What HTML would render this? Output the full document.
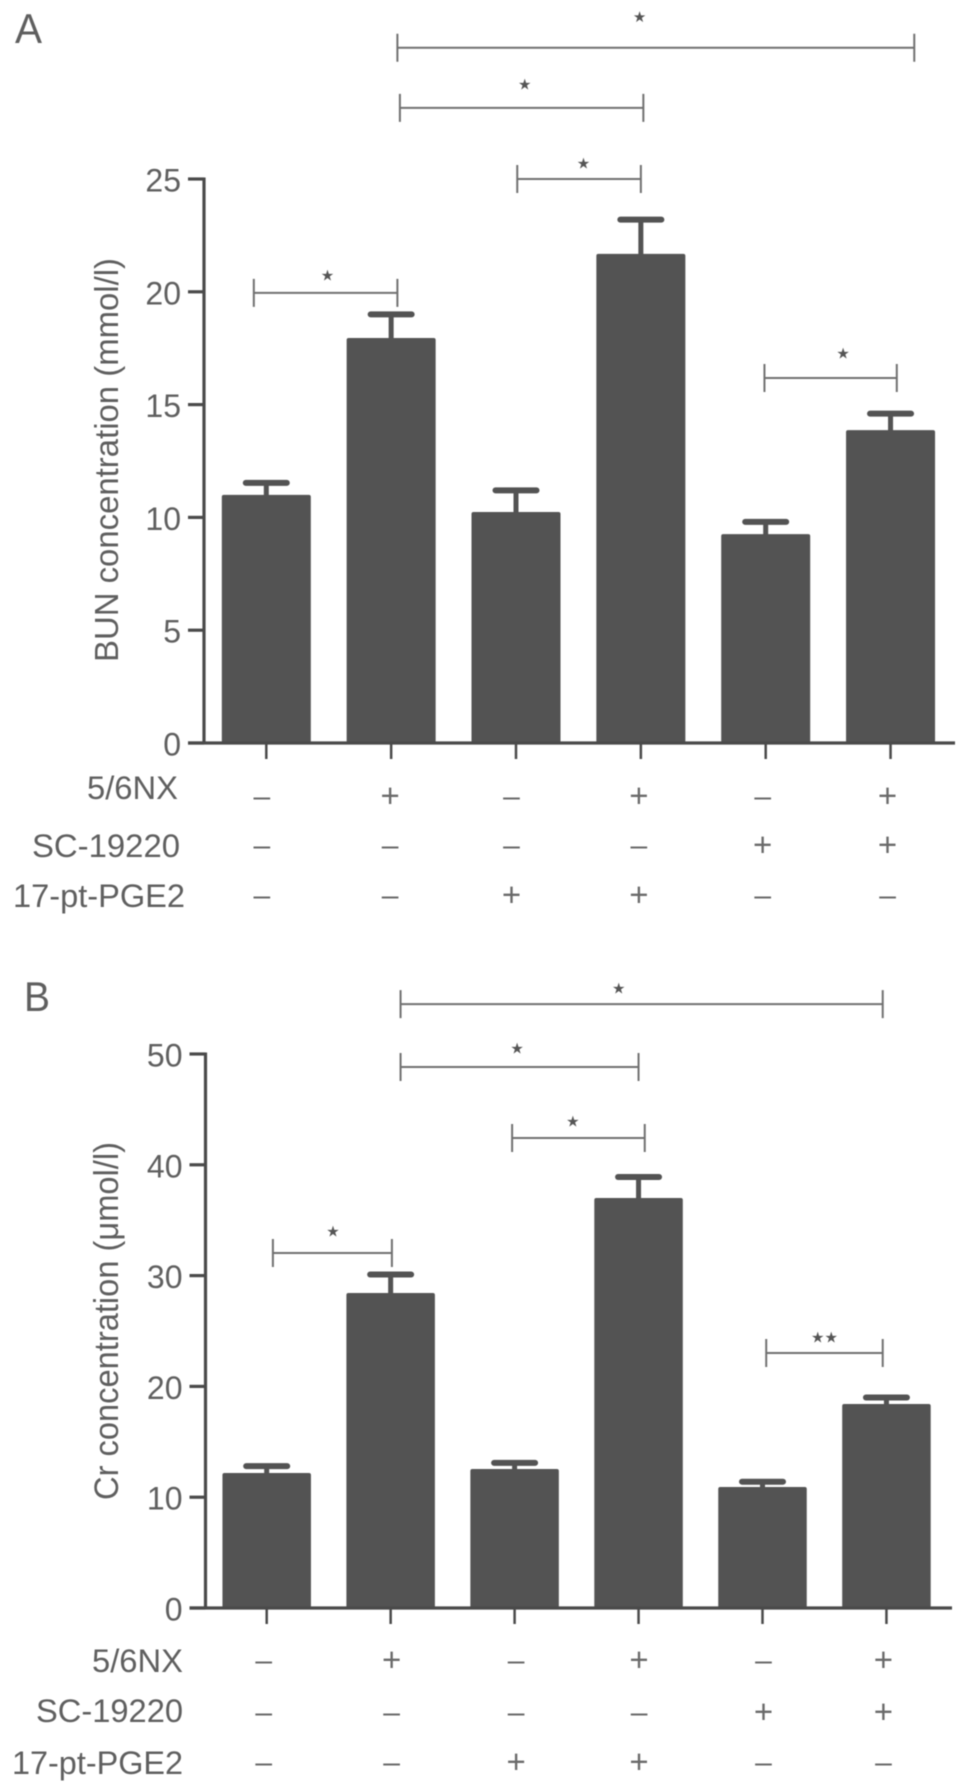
<!DOCTYPE html>
<html lang="en">
<head>
<meta charset="utf-8">
<title>BUN and Cr concentration bar charts</title>
<style>
html,body{margin:0;padding:0;background:#fff;width:969px;height:1791px;overflow:hidden}
svg{display:block;filter:blur(0.6px)}
text{font-family:"Liberation Sans",sans-serif;fill:#5f5f5f}
.star{font-family:"DejaVu Sans",sans-serif;fill:#555}
</style>
</head>
<body>
<svg id="figure" width="969" height="1791" viewBox="0 0 969 1791" xmlns="http://www.w3.org/2000/svg">
  <text x="15" y="43" font-size="42" textLength="27" lengthAdjust="spacingAndGlyphs">A</text>
  <text x="24" y="1011" font-size="42" textLength="26" lengthAdjust="spacingAndGlyphs">B</text>
  <text transform="translate(118,662) rotate(-90)" font-size="33" textLength="404" lengthAdjust="spacingAndGlyphs">BUN concentration (mmol/l)</text>
  <text transform="translate(118,1500) rotate(-90)" font-size="34" textLength="358" lengthAdjust="spacingAndGlyphs">Cr concentration (μmol/l)</text>
</svg>
<script>
var categories = ['group-1', 'group-2', 'group-3', 'group-4', 'group-5', 'group-6'];
var rowLabels = ['5/6NX', 'SC-19220', '17-pt-PGE2'];
var nxSigns = ['–', '+', '–', '+', '–', '+'];
var scSigns = ['–', '–', '–', '–', '+', '+'];
var ptSigns = ['–', '–', '+', '+', '–', '–'];

var bunTicks = [0, 5, 10, 15, 20, 25];
var bunMeans = [11.0, 17.95, 10.24, 21.68, 9.26, 13.87];
var bunErrors = [0.53, 1.05, 0.96, 1.52, 0.54, 0.73];
var bunBracketFrom = [1.05, 1.07, 2.01, -0.10, 3.99];
var bunBracketTo = [5.19, 3.02, 3.0, 1.05, 5.05];
var bunBracketLevel = [30.82, 28.15, 25.0, 19.95, 16.18];
var bunStarAt = [2.99, 2.07, 2.54, 0.49, 4.62];
var bunStarLevel = [32.2, 29.2, 25.7, 20.75, 17.29];
var bunStarMarks = ['★', '★', '★', '★', '★'];

var crTicks = [0, 10, 20, 30, 40, 50];
var crMeans = [12.18, 28.43, 12.55, 37.0, 10.92, 18.41];
var crErrors = [0.62, 1.67, 0.55, 1.9, 0.48, 0.59];
var crBracketFrom = [1.08, 1.08, 1.98, 0.05, 4.03];
var crBracketTo = [4.97, 3.0, 3.05, 1.01, 4.97];
var crBracketLevel = [54.5, 48.83, 42.42, 32.04, 23.01];
var crStarAt = [2.84, 2.02, 2.47, 0.535, 4.5];
var crStarLevel = [55.96, 50.54, 43.95, 34.03, 24.46];
var crStarMarks = ['★', '★', '★', '★', '★★'];

var NS = 'http://www.w3.org/2000/svg';
var svg = document.getElementById('figure');

function mk(tag, attrs, text) {
  var node = document.createElementNS(NS, tag);
  for (var key in attrs) node.setAttribute(key, attrs[key]);
  if (text !== undefined) node.textContent = text;
  svg.appendChild(node);
  return node;
}

function drawPanel(p) {
  var x = function (i) { return p.x0 + i * p.step; };
  var y = function (v) { return p.yZero - v * p.unit; };
  var el;

  p.means.forEach(function (mean, i) {
    var top = y(mean + p.errors[i]);
    el = mk('rect', {x: x(i) - 2.5, y: top, width: 5, height: y(mean) - top + 2, fill: '#535353'});
    
    
    el = mk('rect', {x: x(i) - 23.5, y: top - 3, width: 47, height: 6, rx: 3, fill: '#535353'});
    
    
    el = mk('rect', {x: x(i) - p.barWidth / 2, y: y(mean), width: p.barWidth, height: p.yZero - y(mean), rx: 2, fill: '#535353'});
    
    
    el = mk('line', {x1: x(i), x2: x(i), y1: p.yZero, y2: p.yZero + 16, stroke: '#4a4a4a', 'stroke-width': 2.5});
    
    
  });

  el = mk('line', {x1: p.axisX, x2: p.axisX, y1: y(p.ticks[p.ticks.length - 1]) - 1.5, y2: p.yZero, stroke: '#4a4a4a', 'stroke-width': 3.2});
  
  
  el = mk('line', {x1: p.axisX - 16, x2: p.axisEnd, y1: p.yZero, y2: p.yZero, stroke: '#4a4a4a', 'stroke-width': 3.2});
  
  

  p.ticks.forEach(function (tick) {
    el = mk('line', {x1: p.axisX - 16, x2: p.axisX, y1: y(tick), y2: y(tick), stroke: '#4a4a4a', 'stroke-width': 3.2});
    
    
    el = mk('text', {x: p.axisX - 23, y: y(tick) + 12.5, 'font-size': 32, 'text-anchor': 'end'}, String(tick));
    
    
  });

  p.bracketFrom.forEach(function (from, b) {
    var x1 = x(from), x2 = x(p.bracketTo[b]), by = y(p.bracketLevel[b]);
    el = mk('path', {d: 'M' + x1 + ' ' + (by - 14) + 'V' + (by + 14) + 'M' + x1 + ' ' + by + 'H' + x2 + 'M' + x2 + ' ' + (by - 14) + 'V' + (by + 14), fill: 'none', stroke: '#707070', 'stroke-width': 2});
    
    
    el = mk('text', {class: 'star', x: x(p.starAt[b]), y: y(p.starLevel[b]) + 5.5, 'font-size': 15, 'text-anchor': 'middle'}, p.starMarks[b]);
    
    
  });

  rowLabels.forEach(function (label, r) {
    var signs = [nxSigns, scSigns, ptSigns][r];
    el = mk('text', {x: p.labelX[r], y: p.labelBase[r], 'font-size': 32, 'text-anchor': 'start', textLength: p.labelW[r], lengthAdjust: 'spacingAndGlyphs'}, label);
    
    
    signs.forEach(function (sign, i) {
      var plus = sign === '+';
      el = mk('text', {x: x(i) + p.signOffset[i], y: p.rowY[r] + (plus ? 11 : 10), 'font-size': plus ? 33 : 30, 'text-anchor': 'middle', style: 'fill:#6a6a6a'}, sign);
      
      
    });
  });
}

drawPanel({
  id: 'bun', means: bunMeans, errors: bunErrors, ticks: bunTicks,
  bracketFrom: bunBracketFrom, bracketTo: bunBracketTo, bracketLevel: bunBracketLevel,
  starAt: bunStarAt, starLevel: bunStarLevel, starMarks: bunStarMarks,
  x0: 266.3, step: 124.85, barWidth: 89, yZero: 743, unit: 22.56,
  axisX: 204, axisEnd: 955, signOffset: [-4.5, -1, -4.5, -2, -3, -3],
  rowY: [796, 845, 895], labelX: [87, 32, 13], labelW: [91, 148, 172], labelBase: [799, 857, 907]
});

drawPanel({
  id: 'cr', means: crMeans, errors: crErrors, ticks: crTicks,
  bracketFrom: crBracketFrom, bracketTo: crBracketTo, bracketLevel: crBracketLevel,
  starAt: crStarAt, starLevel: crStarLevel, starMarks: crStarMarks,
  x0: 266.7, step: 123.95, barWidth: 88.5, yZero: 1608, unit: 11.08,
  axisX: 205.5, axisEnd: 952, signOffset: [-3, 1, 1.5, 0.5, 1, -3],
  rowY: [1660, 1712, 1762], labelX: [92, 36, 12], labelW: [91, 147, 171], labelBase: [1672, 1722, 1774]
});
</script>
</body>
</html>
